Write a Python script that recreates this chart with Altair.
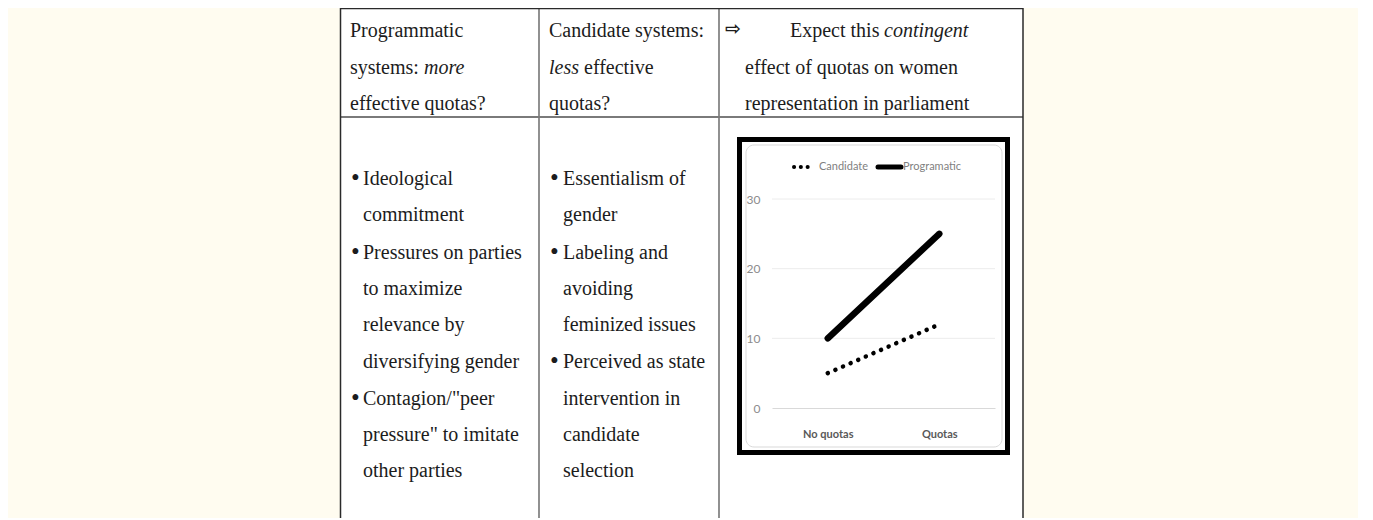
import altair as alt
import pandas as pd

# ---------------- embedded line chart values ----------------
categories = ["No quotas", "Quotas"]
series_names = ["Candidate", "Programatic"]
candidate_values = [5, 12]
programatic_values = [10, 25]
y_tick_values = [0, 10, 20, 30]

# ---------------- table text ----------------
# header segments: (column, line, text, italic)
header_segments = [
    (0, 0, "Programmatic", False),
    (0, 1, "systems:", False),
    (0, 1, "more", True),
    (0, 2, "effective quotas?", False),
    (1, 0, "Candidate systems:", False),
    (1, 1, "less", True),
    (1, 1, "effective", False),
    (1, 2, "quotas?", False),
    (2, 0, "Expect this", False),
    (2, 0, "contingent", True),
    (2, 1, "effect of quotas on women", False),
    (2, 2, "representation in parliament", False),
]
arrow_symbol = "\u21e8"

body_col1 = ["Ideological", "commitment", "Pressures on parties", "to maximize",
             "relevance by", "diversifying gender", 'Contagion/"peer',
             'pressure" to imitate', "other parties"]
body_col1_bullets = [0, 2, 6]
body_col2 = ["Essentialism of", "gender", "Labeling and", "avoiding",
             "feminized issues", "Perceived as state", "intervention in",
             "candidate", "selection"]
body_col2_bullets = [0, 2, 5]

# ---------------- layout (page pixels) ----------------
OX, OY = 772, 199          # page position of the embedded plot's origin
PW, PH = 223, 209          # embedded plot size
PAGE_R, PAGE_B = 1358, 518


def px(v):
    return v - OX


def py(v):
    return v - OY


header_x = [350, 350, 424, 350, 549, 549, 584, 549, 790, 884, 745, 745]
header_base = [37, 74, 110]
body_base = [185, 221, 259, 295, 331, 368, 405, 441, 477]
SERIF = "Liberation Serif"
SANS = "Lato"
INK = "#1c1c1c"

XQ = lambda f="x": alt.X(f + ":Q", scale=None, axis=None)
YQ = lambda f="y": alt.Y(f + ":Q", scale=None, axis=None)

# table white background
table_bg = alt.Chart(pd.DataFrame([dict(x=px(340), x2=px(1023), y=py(8), y2=py(PAGE_B))])).mark_rect(
    fill="white", stroke=None
).encode(x=XQ(), x2="x2:Q", y=YQ(), y2="y2:Q")


# table lines
def rules(segs, color, width):
    df = pd.DataFrame([dict(x=px(a), x2=px(b), y=py(c), y2=py(d)) for a, b, c, d in segs])
    return alt.Chart(df).mark_rule(color=color, strokeWidth=width).encode(
        x=XQ(), x2="x2:Q", y=YQ(), y2="y2:Q")


outer_lines = rules([(340, 1023, 8.5, 8.5), (340.5, 340.5, 8, PAGE_B), (1023, 1023, 8, PAGE_B)], "#2a2a2a", 1.5)
divider_lines = rules([(539, 539, 8, PAGE_B), (719, 719, 8, PAGE_B)], "#555555", 1.3)
header_rule = rules([(340, 1023, 117, 117)], "#7a7a7a", 2)

# header text
hdr_rows = []
for i, (col, line, txt, ital) in enumerate(header_segments):
    hdr_rows.append(dict(text=txt, x=px(header_x[i]), y=py(header_base[line]), italic=ital))
hdr_df = pd.DataFrame(hdr_rows)


def text_layer(df, **kw):
    opts = dict(align="left", baseline="alphabetic", font=SERIF, fontSize=20, color=INK)
    opts.update(kw)
    return alt.Chart(df).mark_text(**opts).encode(x=XQ(), y=YQ(), text="text:N")


hdr_normal = text_layer(hdr_df[~hdr_df.italic])
hdr_italic = text_layer(hdr_df[hdr_df.italic], fontStyle="italic")
arrow = text_layer(pd.DataFrame([dict(text=arrow_symbol, x=px(725), y=py(35))]),
                   font="DejaVu Sans", fontSize=19, fontWeight="bold")

# body text
body_rows, bullet_rows = [], []
for lines, bullets, bx, tx in [(body_col1, body_col1_bullets, 351, 363),
                               (body_col2, body_col2_bullets, 550, 563)]:
    for i, t in enumerate(lines):
        body_rows.append(dict(text=t, x=px(tx), y=py(body_base[i])))
        if i in bullets:
            bullet_rows.append(dict(text="\u2022", x=px(bx), y=py(body_base[i] + 1)))
body_text = text_layer(pd.DataFrame(body_rows))
bullet_text = text_layer(pd.DataFrame(bullet_rows), fontSize=25)

# chart frame (thick black) and inner rounded chart-area border
frame = alt.Chart(pd.DataFrame([dict(x=px(739.5), x2=px(1007.5), y=py(139.5), y2=py(452.5))])).mark_rect(
    fill="white", stroke="black", strokeWidth=5
).encode(x=XQ(), x2="x2:Q", y=YQ(), y2="y2:Q")
inner = alt.Chart(pd.DataFrame([dict(x=px(746), x2=px(1002), y=py(145), y2=py(447))])).mark_rect(
    fill="white", stroke="#d9d9d9", strokeWidth=1, cornerRadius=8
).encode(x=XQ(), x2="x2:Q", y=YQ(), y2="y2:Q")

# embedded line chart
line_df = pd.DataFrame({
    "category": categories * 2,
    "series": [series_names[0]] * 2 + [series_names[1]] * 2,
    "value": candidate_values + programatic_values,
})
xscale = alt.Scale(type="point", domain=categories, padding=0.5)
yscale = alt.Scale(domain=[0, 30], nice=False)

# gridlines (drawn under the lines) through the y scale
grid = alt.Chart(pd.DataFrame({"tick": y_tick_values[1:]})).mark_rule(
    color="#ececec", strokeWidth=1
).encode(y=alt.Y("tick:Q", scale=yscale, axis=None), x=alt.value(0), x2=alt.value(PW))

x_axis = alt.Axis(orient="bottom", title=None, labelFont=SANS, labelFontWeight="bold",
                  labelFontSize=11, labelColor="#595959", labelPadding=20, ticks=False,
                  domain=True, domainColor="#d9d9d9", domainWidth=1, grid=False,
                  labelAngle=0, zindex=1)
y_axis = alt.Axis(orient="left", title=None, values=y_tick_values, labelFont=SANS,
                  labelFontSize=12, labelColor="#8c8c8c", labelPadding=12, ticks=False,
                  domain=False, grid=False, zindex=1)

cand_line = alt.Chart(line_df).transform_filter(alt.datum.series == "Candidate").mark_line(
    color="black", strokeWidth=4.5, strokeDash=[0.1, 8.2], strokeCap="round"
).encode(
    x=alt.X("category:N", scale=xscale, sort=categories, axis=x_axis),
    y=alt.Y("value:Q", scale=yscale, axis=y_axis),
)
prog_line = alt.Chart(line_df).transform_filter(alt.datum.series == "Programatic").mark_line(
    color="black", strokeWidth=6.5, strokeCap="round"
).encode(
    x=alt.X("category:N", scale=xscale, sort=categories, axis=None),
    y=alt.Y("value:Q", scale=yscale, axis=None),
)

# legend
leg_y = py(167)
leg_cand = alt.Chart(pd.DataFrame([dict(x=px(794), x2=px(809), y=leg_y)])).mark_rule(
    color="black", strokeWidth=4, strokeDash=[0.1, 6.7], strokeCap="round"
).encode(x=XQ(), x2="x2:Q", y=YQ())
leg_prog = alt.Chart(pd.DataFrame([dict(x=px(878), x2=px(901), y=leg_y)])).mark_rule(
    color="black", strokeWidth=5, strokeCap="round"
).encode(x=XQ(), x2="x2:Q", y=YQ())
leg_text = alt.Chart(pd.DataFrame([dict(text=series_names[0], x=px(819), y=leg_y),
                                   dict(text=series_names[1], x=px(903), y=leg_y)])).mark_text(
    align="left", baseline="middle", font=SANS, fontSize=11, color="#7f7f7f"
).encode(x=XQ(), y=YQ(), text="text:N")

chart = alt.layer(
    table_bg, divider_lines, header_rule, outer_lines,
    hdr_normal, hdr_italic, arrow, body_text, bullet_text,
    frame, inner, grid,
    cand_line, prog_line,
    leg_cand, leg_prog, leg_text,
).resolve_scale(
    x="independent", y="independent"
).properties(
    width=PW, height=PH,
    padding={"left": OX - 8, "top": OY - 8, "right": PAGE_R - (OX + PW), "bottom": PAGE_B - (OY + PH)},
    autosize=alt.AutoSizeParams(type="none"),
    background="#FFFCF0",
).configure_view(stroke=None)

chart.save("out.html", embed_options={"renderer": "svg", "actions": False})
